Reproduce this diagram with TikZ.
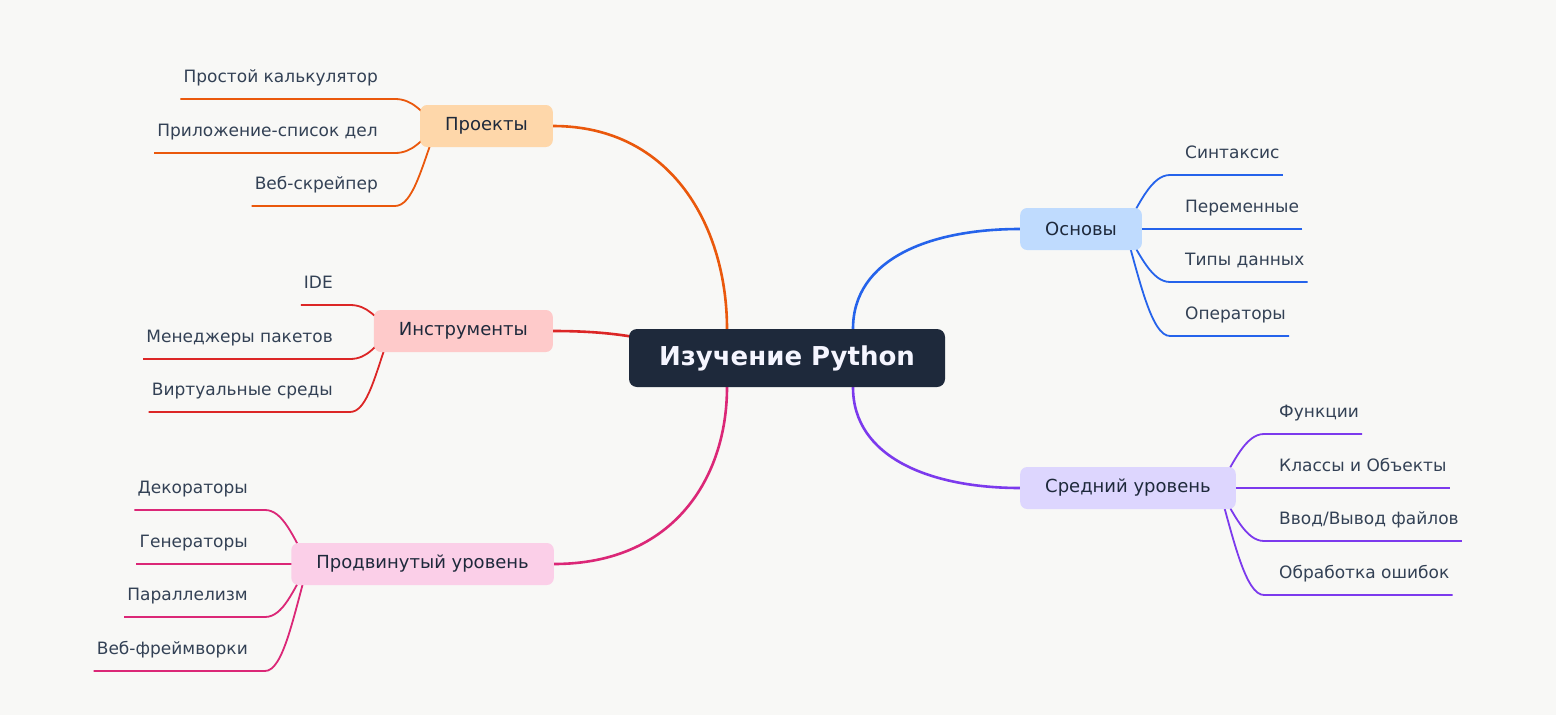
\documentclass[tikz,border=0pt]{standalone}
\usepackage{fontspec}
\setmainfont{DejaVu Sans}
\usetikzlibrary{backgrounds}
\definecolor{paper}{HTML}{F8F8F6}
\definecolor{ink}{HTML}{1E293B}
\definecolor{leafink}{HTML}{334155}
\definecolor{orng}{HTML}{EA580C}\definecolor{orngfill}{HTML}{FED7AA}
\definecolor{rd}{HTML}{DC2626}\definecolor{rdfill}{HTML}{FECACA}
\definecolor{pnk}{HTML}{DB2777}\definecolor{pnkfill}{HTML}{FBCFE8}
\definecolor{blu}{HTML}{2563EB}\definecolor{blufill}{HTML}{BFDBFE}
\definecolor{prpl}{HTML}{7C3AED}\definecolor{prplfill}{HTML}{DDD6FE}
\tikzstyle{root}=[rounded corners=8pt, fill=ink, text=white!96!blue, minimum width=316pt, minimum height=58pt, font=\fontsize{26}{30}\bfseries]
\tikzstyle{topic}=[rounded corners=7pt, minimum height=42pt, inner xsep=25pt, text=ink, font=\fontsize{18}{21}\selectfont]
\tikzstyle{leaf}=[inner sep=0pt, text=leafink, font=\fontsize{17}{20}\selectfont]
\tikzstyle{trunk}=[line width=2.6pt]
\tikzstyle{twig}=[line width=1.8pt]
\newcommand{\topic}{\node[topic]}
\newcommand{\leaf}{\node[leaf]}

\begin{document}
\begin{tikzpicture}[x=1pt, y=-1pt]
\begin{scope}[on background layer]
\fill[paper] (0,0) rectangle (1556,715);
\end{scope}
\node[root] (main) at (787,358) {Изучение Python};
\topic[fill=orngfill, anchor=east] (proj) at (553,126) {Проекты};
\topic[fill=rdfill, anchor=east] (tools) at (553,331) {Инструменты};
\topic[fill=pnkfill, anchor=east] (adv) at (554,564) {Продвинутый уровень};
\topic[fill=blufill, anchor=west] (basics) at (1020,229) {Основы};
\topic[fill=prplfill, anchor=west] (mid) at (1020,488) {Средний уровень};
\begin{scope}[on background layer]
\draw[trunk, orng] (proj.east) .. controls +(120,0) and +(0,-100) .. ([xshift=-60pt]main.north);
\draw[trunk, rd] (tools.east) .. controls +(117,0) and +(-117,0) .. (main.center);
\draw[trunk, pnk] (adv.east) .. controls +(120,0) and +(0,90) .. ([xshift=-60pt]main.south);
\draw[trunk, blu] ([xshift=66pt]main.north) .. controls +(0,-70) and +(-90,0) .. (basics.west);
\draw[trunk, prpl] ([xshift=66pt]main.south) .. controls +(0,70) and +(-90,0) .. (mid.west);
\end{scope}
% left side
\foreach \i/\txt/\y in {1/Простой калькулятор/99, 2/Приложение-список дел/153, 3/Веб-скрейпер/206}{
  \leaf[anchor=base east] (proj\i) at (378,{\y-16.5}) {\txt};
  \pgfmathsetmacro\dy{(\y-126)/2}
  \begin{scope}[on background layer]
  \draw[twig, orng] ([xshift=-3pt,yshift=-16.5pt]proj\i.base west) -- ([xshift=17pt,yshift=-16.5pt]proj\i.base east)
    .. controls +(18,0) and +(-15,\dy) .. ([xshift=17pt]proj.west);
  \end{scope}
}
\foreach \i/\txt/\y in {1/IDE/305, 2/Менеджеры пакетов/359, 3/Виртуальные среды/412}{
  \leaf[anchor=base east] (tools\i) at (333,{\y-16.5}) {\txt};
  \pgfmathsetmacro\dy{(\y-331)/2}
  \begin{scope}[on background layer]
  \draw[twig, rd] ([xshift=-3pt,yshift=-16.5pt]tools\i.base west) -- ([xshift=17pt,yshift=-16.5pt]tools\i.base east)
    .. controls +(18,0) and +(-15,\dy) .. ([xshift=17pt]tools.west);
  \end{scope}
}
\foreach \i/\txt/\y in {1/Декораторы/510, 2/Генераторы/564, 3/Параллелизм/617, 4/Веб-фреймворки/671}{
  \leaf[anchor=base east] (adv\i) at (248,{\y-16.5}) {\txt};
  \pgfmathsetmacro\dy{(\y-564)/2}
  \begin{scope}[on background layer]
  \draw[twig, pnk] ([xshift=-3pt,yshift=-16.5pt]adv\i.base west) -- ([xshift=17pt,yshift=-16.5pt]adv\i.base east)
    .. controls +(18,0) and +(-15,\dy) .. ([xshift=17pt]adv.west);
  \end{scope}
}
% right side
\foreach \i/\txt/\y in {1/Синтаксис/175, 2/Переменные/229, 3/Типы данных/282, 4/Операторы/336}{
  \leaf[anchor=base west] (basics\i) at (1185,{\y-16.5}) {\txt};
  \pgfmathsetmacro\dy{(\y-229)/2}
  \begin{scope}[on background layer]
  \draw[twig, blu] ([xshift=3pt,yshift=-16.5pt]basics\i.base east) -- ([xshift=-15pt,yshift=-16.5pt]basics\i.base west)
    .. controls +(-18,0) and +(15,\dy) .. ([xshift=-17pt]basics.east);
  \end{scope}
}
\foreach \i/\txt/\y in {1/Функции/434, 2/Классы и Объекты/488, 3/{Ввод/Вывод файлов}/541, 4/Обработка ошибок/595}{
  \leaf[anchor=base west] (mid\i) at (1279,{\y-16.5}) {\txt};
  \pgfmathsetmacro\dy{(\y-488)/2}
  \begin{scope}[on background layer]
  \draw[twig, prpl] ([xshift=3pt,yshift=-16.5pt]mid\i.base east) -- ([xshift=-15pt,yshift=-16.5pt]mid\i.base west)
    .. controls +(-18,0) and +(15,\dy) .. ([xshift=-17pt]mid.east);
  \end{scope}
}
\end{tikzpicture}
\end{document}
